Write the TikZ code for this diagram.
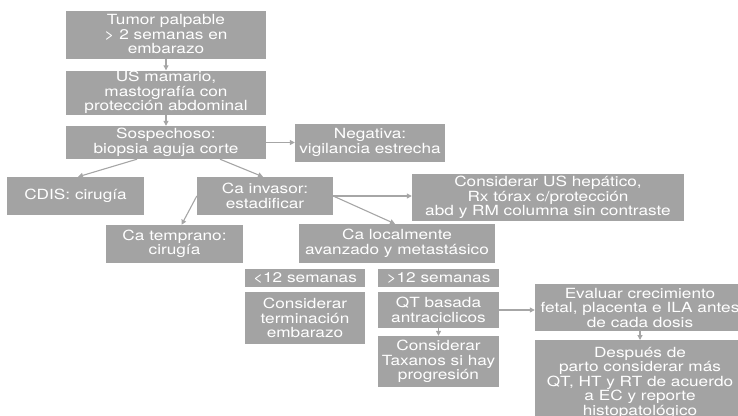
\documentclass[tikz,border=0pt]{standalone}
\usepackage{fontspec}
\setmainfont{TeX Gyre Heros}[FakeStretch=1.23]
\usetikzlibrary{arrows.meta}
\definecolor{boxgray}{HTML}{A3A3A3}
\definecolor{linegray}{HTML}{A6A6A6}
\tikzset{
  box/.style={fill=boxgray, text=white, inner sep=0pt, align=center,
    font=\fontsize{14}{14.5}\selectfont},
  conn/.style={draw=linegray, line width=1.1pt, -{Triangle[length=5pt,width=5pt]}}
}
\begin{document}
\begin{tikzpicture}[x=1pt,y=-1pt]
\useasboundingbox (0,0) rectangle (738,415);
\clip (0,0) rectangle (738,415);
\node[box, minimum width=200pt, minimum height=48pt] (tumor) at (166,34.5) {Tumor palpable\\> 2 semanas en\\embarazo};
\node[box, minimum width=200pt, minimum height=44pt] (us) at (166,92.5) {US mamario,\\mastografía con\\protección abdominal};
\node[box, minimum width=200pt, minimum height=33pt] (sosp) at (166,142.5) {Sospechoso:\\biopsia aguja corte};
\node[box, minimum width=150pt, minimum height=38pt] (neg) at (370,142.5) {Negativa:\\vigilancia estrecha};
\node[box, minimum width=137pt, minimum height=38pt] (cdis) at (75.5,196) {CDIS: cirugía};
\node[box, minimum width=136pt, minimum height=38pt] (inv) at (265,196) {Ca invasor:\\estadificar};
\node[box, minimum width=137pt, minimum height=38pt] (temp) at (174.5,244) {Ca temprano:\\cirugía};
\node[box, minimum width=196pt, minimum height=39pt] (loc) at (397,243.5) {Ca localmente\\avanzado y metastásico};
\node[box, minimum width=272pt, minimum height=47pt] (cons) at (548,197.5) {Considerar US hepático,\\Rx tórax c/protección\\abd y RM columna sin contraste};
\node[box, minimum width=120pt, minimum height=18pt] (lt) at (305,278) {<12 semanas};
\node[box, minimum width=121pt, minimum height=18pt] (gt) at (438.5,278) {>12 semanas};
\node[box, minimum width=120pt, minimum height=52pt] (term) at (305,318) {Considerar\\terminación\\embarazo};
\node[box, minimum width=121pt, minimum height=36pt] (qt) at (438.5,310) {QT basada\\antraciclicos};
\node[box, minimum width=121pt, minimum height=51pt] (tax) at (438.5,361.5) {Considerar\\Taxanos si hay\\progresión};
\node[box, minimum width=210pt, minimum height=47pt] (eval) at (640,307.5) {Evaluar crecimiento\\fetal, placenta e ILA antes\\de cada dosis};
\node[box, minimum width=210pt, minimum height=82pt, anchor=north, inner ysep=3pt, text depth=0pt] (desp) at (640,340) {Después de\\parto considerar más\\QT, HT y RT de acuerdo\\a EC y reporte\\histopatológico};
\draw[conn] (tumor) -- (us);
\draw[conn] (us) -- (sosp);
\draw[conn] (sosp.east) -- (neg.west);
\draw[conn] ([xshift=-29pt]sosp.south) -- ([xshift=2.5pt]cdis.north);
\draw[conn] ([xshift=54pt]sosp.south) -- ([xshift=-2pt]inv.north);
\draw[conn] (inv.west) -- ([xshift=7pt]temp.north);
\draw[conn] (inv.east) -- ([xshift=-2pt]loc.north);
\draw[conn] (inv.east) -- (inv.east -| cons.west);
\draw[conn] (qt) -- (tax);
\draw[conn] (qt.east) -- (qt.east -| eval.west);
\draw[conn] (eval) -- (desp);
\end{tikzpicture}
\end{document}
